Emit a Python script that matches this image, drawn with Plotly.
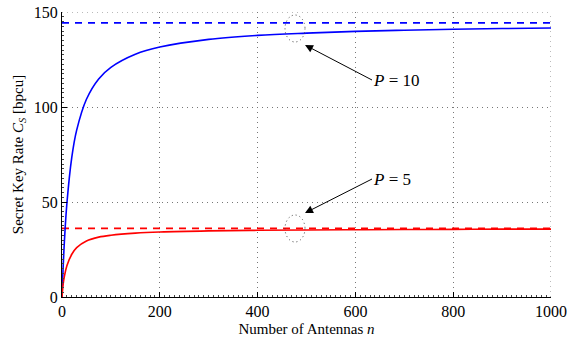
import plotly.graph_objects as go

n_vals = [0, 1, 2, 5, 10, 20, 30, 50, 75, 100, 150, 200, 300, 400, 500, 600, 700, 800, 900, 1000]
rate_p10 = [0, 7.1, 13.6, 29.7, 49.2, 73.5, 87.8, 104.1, 114.8, 120.9, 127.8, 131.6, 135.6, 137.7, 138.9, 139.8, 140.4, 140.9, 141.3, 141.6]
rate_p5 = [0, 3.2, 6.0, 11.0, 16.5, 22.5, 26.0, 29.5, 31.5, 32.5, 33.6, 34.2, 34.8, 35.1, 35.3, 35.4, 35.5, 35.6, 35.7, 35.7]
limit_p10 = 144.3
limit_p5 = 36.1
x_ticks = [0, 200, 400, 600, 800, 1000]
y_ticks = [0, 50, 100, 150]

FONT = "Liberation Serif"

# pixel -> data helpers for annotation placement (plot area: x 62..551, y 12..297)
def px_x(p):
    return (p - 62) / 489 * 1000

def px_y(p):
    return (297 - p) / 285 * 150

fig = go.Figure()
fig.add_trace(go.Scatter(x=[0, 1000], y=[limit_p10, limit_p10], mode="lines",
                         line=dict(color="#0000ff", width=1.6, dash="7px,6px"), showlegend=False))
fig.add_trace(go.Scatter(x=[0, 1000], y=[limit_p5, limit_p5], mode="lines",
                         line=dict(color="#ff0000", width=1.6, dash="7px,6px"), showlegend=False))
fig.add_trace(go.Scatter(x=n_vals, y=rate_p10, mode="lines", line_shape="spline",
                         line=dict(color="#0000ff", width=1.6), showlegend=False))
fig.add_trace(go.Scatter(x=n_vals, y=rate_p5, mode="lines", line_shape="spline",
                         line=dict(color="#ff0000", width=1.6), showlegend=False))

# dotted circles
fig.add_shape(type="circle", xref="x", yref="y", x0=px_x(285), x1=px_x(305), y0=px_y(42), y1=px_y(15),
              line=dict(color="#444444", width=1, dash="1px,3px"))
fig.add_shape(type="circle", xref="x", yref="y", x0=px_x(285), x1=px_x(305), y0=px_y(242), y1=px_y(215),
              line=dict(color="#444444", width=1, dash="1px,3px"))

# top/right dotted border
fig.add_shape(type="line", xref="x", yref="y", x0=0, x1=1000, y0=150, y1=150,
              line=dict(color="#777777", width=1, dash="1px,4px"))
fig.add_shape(type="line", xref="x", yref="y", x0=1000, x1=1000, y0=0, y1=150,
              line=dict(color="#777777", width=1, dash="1px,4px"))

fig.add_annotation(x=px_x(305), y=px_y(45), xref="x", yref="y", ax=px_x(372), ay=px_y(80),
                   axref="x", ayref="y", text="<i>P</i> = 10", xanchor="left", borderpad=0,
                   showarrow=True, arrowhead=2, arrowsize=1.6, arrowwidth=1, arrowcolor="black",
                   font=dict(family=FONT, size=17, color="black"))
fig.add_annotation(x=px_x(305), y=px_y(213), xref="x", yref="y", ax=px_x(372), ay=px_y(179),
                   axref="x", ayref="y", text="<i>P</i> = 5", xanchor="left", borderpad=0,
                   showarrow=True, arrowhead=2, arrowsize=1.6, arrowwidth=1, arrowcolor="black",
                   font=dict(family=FONT, size=17, color="black"))

fig.update_layout(
    width=567, height=339,
    margin=dict(l=62, r=16, t=12, b=42, autoexpand=False),
    plot_bgcolor="white", paper_bgcolor="white",
    font=dict(family=FONT, size=15, color="black"),
    xaxis=dict(range=[0, 1000], tickvals=x_ticks, ticks="inside", ticklen=5, tickcolor="black",
               showline=True, linecolor="black", linewidth=1.2, automargin=False,
               showgrid=True, gridcolor="#777777", griddash="1px,4px", gridwidth=1, zeroline=False,
               minor=dict(ticks="inside", dtick=10, ticklen=2, tickcolor="#444444", showgrid=False),
               title=dict(text="Number of Antennas <i>n</i>", font=dict(size=15), standoff=4),
               tickfont=dict(size=16)),
    yaxis=dict(range=[0, 150], tickvals=y_ticks, ticks="inside", ticklen=5, tickcolor="black",
               showline=True, linecolor="black", linewidth=1.2, automargin=False,
               showgrid=True, gridcolor="#777777", griddash="1px,4px", gridwidth=1, zeroline=False,
               minor=dict(ticks="inside", dtick=2.5, ticklen=2, tickcolor="#444444", showgrid=False),
               title=dict(text="Secret Key Rate <i>C</i><sub><i>S</i></sub> [bpcu]", font=dict(size=15), standoff=6),
               tickfont=dict(size=16)),
)

fig.write_html("out.html", config={"displayModeBar": False},
               post_script="document.body.style.margin='0';document.body.style.overflow='hidden';")
